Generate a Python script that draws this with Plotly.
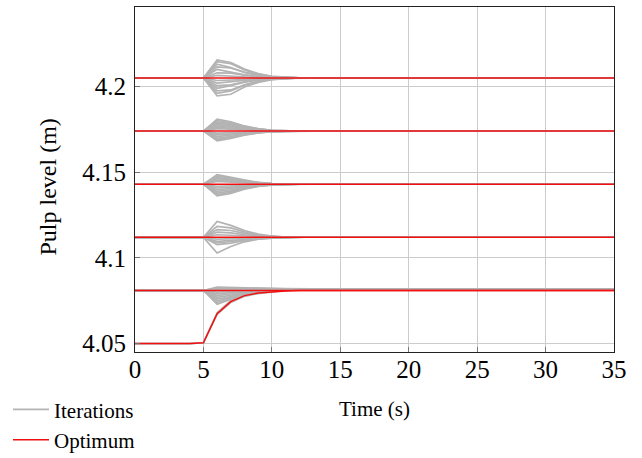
import plotly.graph_objects as go

# ---------------- data ----------------
time_s = list(range(0, 36))

# optimum (set-point) levels, m
opt_levels = [4.205, 4.174, 4.143, 4.112, 4.081]

# optimum trajectory of the rising tank (t = 0..35)
opt_rise = ([4.050] * 5 + [4.0505, 4.0675, 4.0745, 4.0780, 4.0795, 4.0803, 4.0807]
            + [4.081] * 24)

# iteration deviations from each level in mm at t = 6,7,8,9,10,11
iter_dev_205 = [
    [10.5, 9.0, 5.2, 2.5, 1.0, 0.3], [9.5, 8.3, 4.6, 2.2, 0.9, 0.3],
    [8.0, 6.0, 3.2, 1.5, 0.6, 0.2], [6.5, 5.8, 3.4, 1.7, 0.7, 0.2],
    [5.0, 3.5, 1.8, 0.8, 0.3, 0.1], [3.0, 2.8, 1.6, 0.8, 0.3, 0.1],
    [1.5, 1.0, 0.5, 0.2, 0.1, 0.0], [-1.5, -1.2, -0.6, -0.3, -0.1, 0.0],
    [-3.0, -2.2, -1.2, -0.6, -0.2, -0.1], [-4.5, -4.0, -2.3, -1.1, -0.4, -0.1],
    [-6.0, -4.5, -2.4, -1.2, -0.5, -0.1], [-7.5, -7.0, -4.0, -2.0, -0.8, -0.2],
    [-9.0, -7.5, -4.2, -2.0, -0.8, -0.2], [-10.5, -9.5, -5.3, -2.6, -1.0, -0.3],
]
iter_dev_174 = [
    [7.0, 5.4, 3.0, 1.4, 0.5, 0.1], [6.2, 5.0, 2.8, 1.3, 0.5, 0.1],
    [5.4, 4.3, 2.4, 1.1, 0.4, 0.1], [4.6, 3.6, 2.0, 0.9, 0.3, 0.1],
    [3.8, 3.0, 1.7, 0.8, 0.3, 0.1], [3.0, 2.3, 1.3, 0.6, 0.2, 0.0],
    [2.2, 1.7, 0.9, 0.4, 0.2, 0.0], [1.4, 1.1, 0.6, 0.3, 0.1, 0.0],
    [-1.2, -0.9, -0.5, -0.2, -0.1, 0.0], [-2.2, -1.7, -0.9, -0.4, -0.2, 0.0],
    [-3.2, -2.5, -1.4, -0.6, -0.2, 0.0], [-4.2, -3.2, -1.8, -0.8, -0.3, -0.1],
    [-5.0, -3.8, -2.1, -1.0, -0.4, -0.1], [-5.7, -4.3, -2.4, -1.1, -0.4, -0.1],
]
iter_dev_143 = [
    [5.6, 4.1, 2.2, 1.0, 0.4, 0.1], [4.8, 3.6, 1.9, 0.9, 0.3, 0.1],
    [4.0, 3.0, 1.6, 0.7, 0.3, 0.1], [3.2, 2.4, 1.3, 0.6, 0.2, 0.0],
    [2.4, 1.8, 1.0, 0.4, 0.2, 0.0], [1.6, 1.2, 0.6, 0.3, 0.1, 0.0],
    [-1.2, -0.9, -0.5, -0.2, -0.1, 0.0], [-2.2, -1.7, -0.9, -0.4, -0.2, 0.0],
    [-3.2, -2.5, -1.3, -0.6, -0.2, 0.0], [-4.2, -3.3, -1.8, -0.8, -0.3, -0.1],
    [-5.2, -4.0, -2.2, -1.0, -0.4, -0.1], [-6.0, -4.7, -2.6, -1.2, -0.4, -0.1],
    [-6.8, -5.3, -2.9, -1.3, -0.5, -0.1],
]
iter_dev_112 = [
    [9.3, 7.0, 4.0, 1.9, 0.8, 0.2], [6.4, 5.5, 3.2, 1.5, 0.6, 0.2],
    [4.5, 4.0, 2.3, 1.1, 0.4, 0.1], [3.0, 2.6, 1.5, 0.7, 0.3, 0.1],
    [1.5, 1.2, 0.7, 0.3, 0.1, 0.0], [-1.0, -0.8, -0.4, -0.2, -0.1, 0.0],
    [-2.3, -1.8, -1.0, -0.5, -0.2, 0.0], [-3.3, -2.6, -1.5, -0.7, -0.3, -0.1],
    [-4.3, -3.4, -1.9, -0.9, -0.4, -0.1], [-9.1, -5.3, -2.6, -1.1, -0.4, -0.1],
]
iter_dev_081 = [
    [2.0, 1.8, 1.4, 1.1, 1.0, 1.0], [1.5, 1.4, 1.2, 1.0, 1.0, 1.0],
    [0.5, 0.6, 0.8, 0.9, 1.0, 1.0], [-1.0, -0.5, 0.2, 0.6, 0.8, 0.9],
    [-2.0, -1.2, -0.2, 0.4, 0.7, 0.9], [-3.0, -2.0, -0.6, 0.2, 0.6, 0.9],
    [-4.0, -2.8, -1.0, 0.1, 0.6, 0.9], [-5.0, -3.5, -1.4, 0.0, 0.5, 0.8],
    [-6.0, -4.2, -1.8, -0.2, 0.5, 0.8], [-7.0, -4.8, -2.0, -0.3, 0.4, 0.8],
    [-8.0, -5.3, -2.3, -0.4, 0.4, 0.8],
]
iter_devs = [iter_dev_205, iter_dev_174, iter_dev_143, iter_dev_112, iter_dev_081]
# final (t >= 12) offset of the iterations from the optimum, mm
iter_settle = [0.0, 0.0, 0.0, 0.3, 1.0]

# iterations of the rising tank, t = 5..11 (then settle at level)
iter_rise = [
    [4.0505, 4.0680, 4.0752, 4.0786, 4.0800, 4.0808, 4.0812],
    [4.0505, 4.0670, 4.0740, 4.0776, 4.0792, 4.0802, 4.0810],
]
iter_rise_settle = [4.0818, 4.0814]

x_ticks = [0, 5, 10, 15, 20, 25, 30, 35]
y_ticks = [4.05, 4.1, 4.15, 4.2]
y_ticktext = ["4.05", "4.1", "4.15", "4.2"]

# ---------------- figure ----------------
GRAY = "#b3b3b3"
RED = "#f01010"
FONT = "Liberation Serif, Times New Roman, serif"

fig = go.Figure()
first = True
for base, rows, settle in zip(opt_levels, iter_devs, iter_settle):
    for row in rows:
        y = [base] * 6 + [base + d / 1000 for d in row] + [base + settle / 1000] * 24
        fig.add_trace(go.Scatter(x=time_s, y=y, mode="lines",
                                 line=dict(color=GRAY, width=1.7),
                                 name="Iterations", legendgroup="it",
                                 showlegend=first, hoverinfo="skip"))
        first = False
for row, fin in zip(iter_rise, iter_rise_settle):
    y = [4.050] * 5 + row + [fin] * 24
    fig.add_trace(go.Scatter(x=time_s, y=y, mode="lines",
                             line=dict(color=GRAY, width=1.7),
                             name="Iterations", legendgroup="it",
                             showlegend=False, hoverinfo="skip"))

first = True
for base in opt_levels:
    fig.add_trace(go.Scatter(x=time_s, y=[base] * len(time_s), mode="lines",
                             line=dict(color=RED, width=1.5),
                             name="Optimum", legendgroup="opt",
                             showlegend=first))
    first = False
fig.add_trace(go.Scatter(x=time_s, y=opt_rise, mode="lines",
                         line=dict(color=RED, width=1.5),
                         name="Optimum", legendgroup="opt", showlegend=False))

fig.update_layout(
    width=642, height=458,
    margin=dict(l=135, r=28, t=7, b=106, autoexpand=False),
    paper_bgcolor="white", plot_bgcolor="white",
    font=dict(family=FONT, size=21, color="black"),
    legend=dict(xref="container", yref="container", x=0.0125, y=0.0726,
                xanchor="left", yanchor="middle",
                font=dict(family=FONT, size=21), bgcolor="rgba(0,0,0,0)",
                tracegroupgap=0, itemwidth=36),
    showlegend=True,
    annotations=[
        dict(text="Time (s)", xref="paper", yref="paper", x=0.5, y=0,
             yshift=-57, xanchor="center", yanchor="middle", showarrow=False,
             font=dict(family=FONT, size=21)),
        dict(text="Pulp level (m)", xref="paper", yref="paper", x=0, y=0.5,
             xshift=-88, yshift=-8, xanchor="center", yanchor="middle",
             showarrow=False, textangle=-90, font=dict(family=FONT, size=24)),
    ],
)
fig.update_xaxes(range=[0, 35], tickvals=x_ticks, showgrid=True,
                 gridcolor="#cccccc", gridwidth=1, zeroline=False,
                 showline=True, linecolor="#222222", linewidth=1.2, mirror=True,
                 ticks="inside", ticklen=5, tickcolor="#777777",
                 ticklabelstandoff=-5,
                 tickfont=dict(family=FONT, size=25))
fig.update_yaxes(range=[4.0451, 4.2464], tickvals=y_ticks, ticktext=y_ticktext,
                 showgrid=True, gridcolor="#cccccc", gridwidth=1, zeroline=False,
                 showline=True, linecolor="#222222", linewidth=1.2, mirror=True,
                 ticks="inside", ticklen=5, tickcolor="#777777",
                 ticklabelstandoff=3,
                 tickfont=dict(family=FONT, size=25))

fig.write_html("out.html")
